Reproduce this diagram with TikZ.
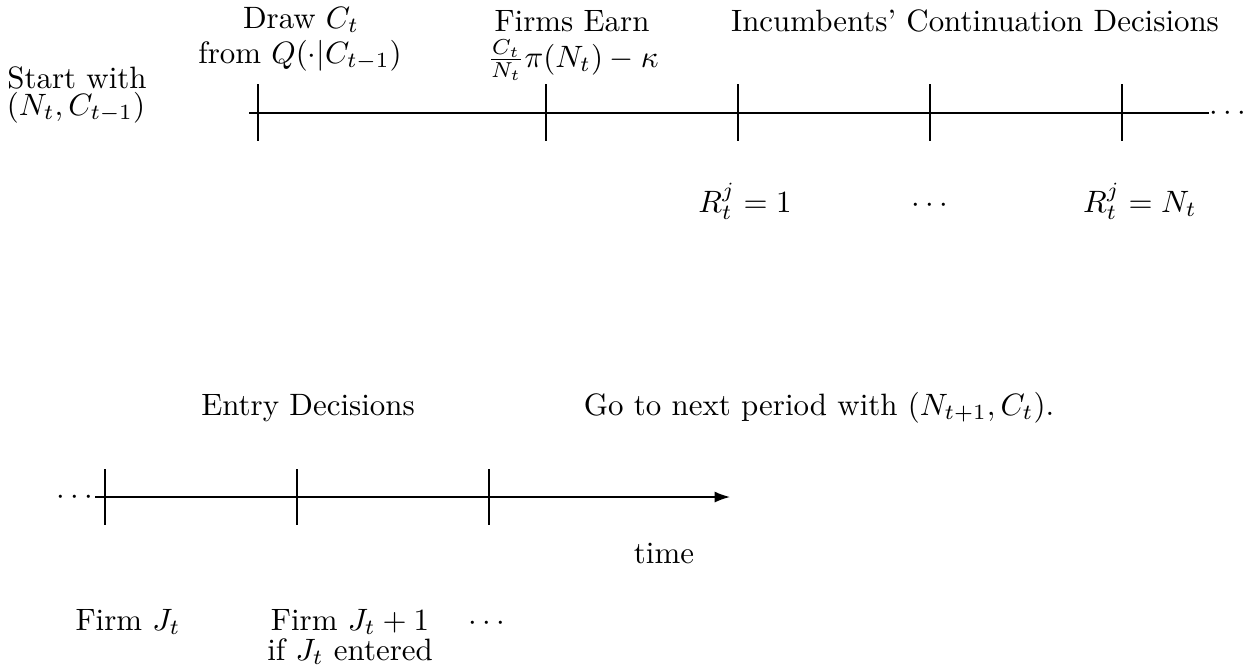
\documentclass[tikz,border=0pt]{standalone}
\usetikzlibrary{arrows.meta}
\begin{document}
\begin{tikzpicture}[x=0.3235pt,y=-0.3235pt,
  txt/.style={inner sep=0pt, outer sep=0pt, anchor=base},
  axisline/.style={line width=0.5pt},
  tickline/.style={line width=0.4pt}]
\useasboundingbox (0,0) rectangle (1258,670);
% top timeline
\coordinate (ta) at (249,113);
\coordinate (tb) at (1209,113);
\draw[axisline] (ta) -- (tb);
\node[txt] (topdots) at (1228,120.7) {$\cdots$};
\foreach \i/\x in {1/258,2/546,3/738,4/930,5/1122}{
  \coordinate (tt\i) at (\x,84);
  \coordinate (tbt\i) at (\x,141);
  \draw[tickline] (tt\i) -- (tbt\i);
}
\node[txt] (start1) at (77,88) {Start with};
\node[txt] (start2) at (76,115) {$(N_t,C_{t-1})$};
\node[txt] (draw1) at (301,28) {Draw $C_t$};
\node[txt] (draw2) at (300,63) {from $Q(\cdot|C_{t-1})$};
\node[txt] (earn1) at (572,31) {Firms Earn};
\node[txt] (earn2) at (573,67) {$\frac{C_t}{N_t}\pi(N_t)-\kappa$};
\node[txt] (inc) at (975,31) {Incumbents' Continuation Decisions};
\node[txt] (r1) at (745,212) {$R^j_t=1$};
\node[txt] (rdots) at (930,212) {$\cdots$};
\node[txt] (rN) at (1140,212) {$R^j_t=N_t$};
% bottom timeline
\node[txt] (botdots) at (75,504.7) {$\cdots$};
\coordinate (ba) at (95,497);
\coordinate (bb) at (730,497);
\draw[axisline,-{Latex[length=5pt,width=3.6pt]}] (ba) -- (bb);
\foreach \i/\x in {1/105,2/297,3/489}{
  \coordinate (bt\i) at (\x,469);
  \coordinate (bbt\i) at (\x,525);
  \draw[tickline] (bt\i) -- (bbt\i);
}
\node[txt] (entry) at (308,415) {Entry Decisions};
\node[txt] (next) at (819,415) {Go to next period with $(N_{t+1},C_t)$.};
\node[txt] (time) at (664,563) {time};
\node[txt] (firm1) at (128,630) {Firm $J_t$};
\node[txt] (firm2) at (350,630) {Firm $J_t+1$};
\node[txt] (firm3) at (350,660) {if $J_t$ entered};
\node[txt] (fdots) at (487,630) {$\cdots$};
\end{tikzpicture}
\end{document}
